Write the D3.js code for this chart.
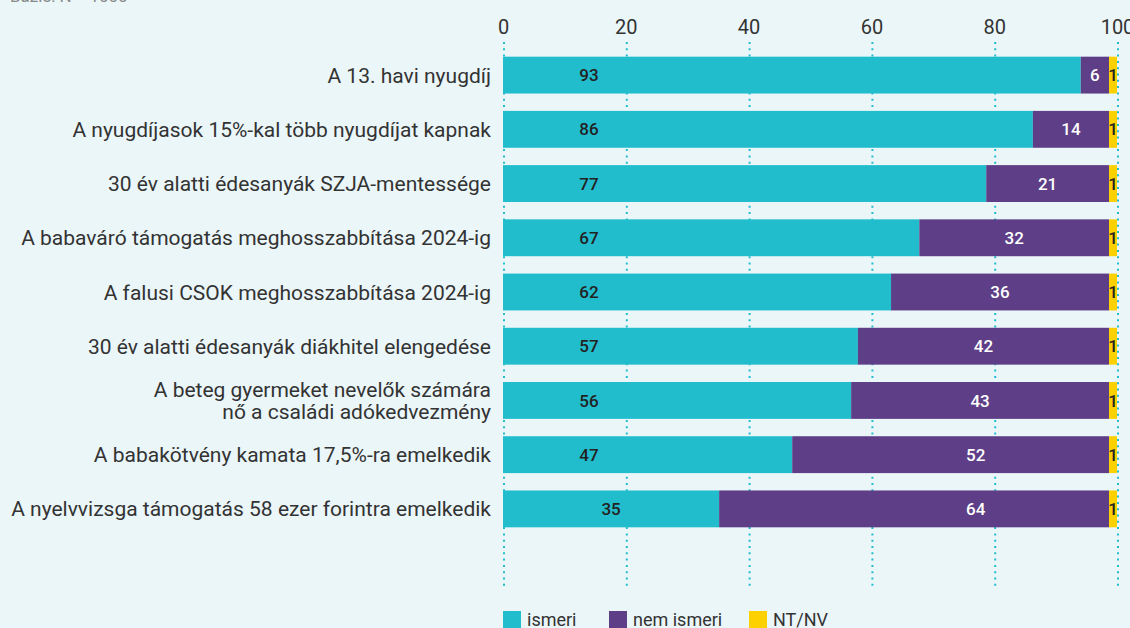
<!DOCTYPE html>
<html>
<head>
<meta charset="utf-8">
<script src="https://cdn.jsdelivr.net/npm/d3@7"></script>
<style>
  html, body { margin: 0; padding: 0; background: #ebf6f9; }
  svg { display: block; }
</style>
</head>
<body>
<div id="chart"></div>
<script>
// categories (top to bottom)
const categories = [
    ["A 13. havi nyugdíj"],
    ["A nyugdíjasok 15%-kal több nyugdíjat kapnak"],
    ["30 év alatti édesanyák SZJA-mentessége"],
    ["A babaváró támogatás meghosszabbítása 2024-ig"],
    ["A falusi CSOK meghosszabbítása 2024-ig"],
    ["30 év alatti édesanyák diákhitel elengedése"],
    ["A beteg gyermeket nevelők számára", "nő a családi adókedvezmény"],
    ["A babakötvény kamata 17,5%-ra emelkedik"],
    ["A nyelvvizsga támogatás 58 ezer forintra emelkedik"]
];

// bar lengths as drawn in the picture (%)
const ismeri    = [94.1, 86.3, 78.7, 67.8, 63.2, 57.8, 56.7, 47.1, 35.2];
const nemIsmeri = [4.6, 12.4, 20.0, 30.9, 35.5, 40.9, 42.0, 51.6, 63.5];
const ntnv      = [1.3, 1.3, 1.3, 1.3, 1.3, 1.3, 1.3, 1.3, 1.3];

// printed value labels
const ismeriLabels    = [93, 86, 77, 67, 62, 57, 56, 47, 35];
const nemIsmeriLabels = [6, 14, 21, 32, 36, 42, 43, 52, 64];
const ntnvLabels      = [1, 1, 1, 1, 1, 1, 1, 1, 1];

const xTicks = [0, 20, 40, 60, 80, 100];
const seriesNames = ["ismeri", "nem ismeri", "NT/NV"];

const colors = {
    teal: "#22bdcc",
    purple: "#5e3f87",
    yellow: "#fdd100",
    text: "#333",
    bg: "#ebf6f9"
};
const font = "Roboto, 'Noto Sans', sans-serif";

const W = 1130, H = 628;

const svg = d3.select("#chart").append("svg")
    .attr("width", W)
    .attr("height", H)
    .style("background", colors.bg);

const x = d3.scaleLinear().domain([0, 100]).range([503, 1117]);
const y = d3.scaleBand()
    .domain(d3.range(categories.length))
    .range([48, 536])
    .paddingInner(0.32)
    .paddingOuter(0.16);

// cut-off note at the very top
svg.append("text")
    .attr("x", 10)
    .attr("y", 1.5)
    .style("font-family", font)
    .style("font-size", "17px")
    .style("fill", "#888")
    .text("Bázis: N = 1000");

// dotted grid
svg.append("g")
    .selectAll("line")
    .data(xTicks)
    .join("line")
    .attr("x1", d => x(d) + 1)
    .attr("x2", d => x(d) + 1)
    .attr("y1", 42)
    .attr("y2", 586)
    .style("stroke", colors.teal)
    .style("stroke-width", 2)
    .style("stroke-dasharray", "2,4.3");

// top axis
const axis = svg.append("g")
    .attr("transform", "translate(0,34)")
    .call(d3.axisTop(x).tickValues(xTicks).tickSize(0).tickPadding(0));
axis.select(".domain").remove();
axis.selectAll("text")
    .style("font-family", font)
    .style("font-size", "20px")
    .style("fill", colors.text);

// stacked rows
const rows = categories.map((c, i) => ({
    i,
    a: ismeri[i], b: nemIsmeri[i], c: ntnv[i],
    la: ismeriLabels[i], lb: nemIsmeriLabels[i], lc: ntnvLabels[i]
}));

const row = svg.append("g")
    .selectAll("g")
    .data(rows)
    .join("g")
    .attr("transform", d => `translate(0,${y(d.i)})`);

const bh = y.bandwidth();

row.append("rect")
    .attr("x", x(0))
    .attr("width", d => x(d.a) - x(0))
    .attr("height", bh)
    .style("fill", colors.teal);

row.append("rect")
    .attr("x", d => x(d.a))
    .attr("width", d => x(d.a + d.b) - x(d.a))
    .attr("height", bh)
    .style("fill", colors.purple);

row.append("rect")
    .attr("x", d => x(d.a + d.b))
    .attr("width", d => x(d.a + d.b + d.c) - x(d.a + d.b))
    .attr("height", bh)
    .style("fill", colors.yellow);

const numStyle = sel => sel
    .attr("y", bh / 2)
    .attr("dy", "0.36em")
    .attr("text-anchor", "middle")
    .style("font-family", font)
    .style("font-size", "17px")
    .style("font-weight", 500);

row.append("text")
    .call(numStyle)
    .attr("x", d => d.a > 40 ? x(14) : x(d.a / 2))
    .style("fill", "#222")
    .text(d => d.la);

row.append("text")
    .call(numStyle)
    .attr("x", d => Math.max(x(d.a + d.b / 2), x(77)))
    .style("fill", "#fff")
    .text(d => d.lb);

row.append("text")
    .call(numStyle)
    .attr("x", d => x(d.a + d.b + d.c / 2))
    .style("fill", "#222")
    .text(d => d.lc);

// category labels
const lineH = 22;
row.append("text")
    .attr("x", 491)
    .attr("text-anchor", "end")
    .style("font-family", font)
    .style("font-size", "21px")
    .style("fill", colors.text)
    .each(function(d) {
        const lines = categories[d.i];
        const t = d3.select(this);
        lines.forEach((s, k) => {
            t.append("tspan")
                .attr("x", 491)
                .attr("y", bh / 2 + (k - (lines.length - 1) / 2) * lineH)
                .attr("dy", "0.36em")
                .text(s);
        });
    });

// legend
const legendColors = [colors.teal, colors.purple, colors.yellow];
const legendX = [503, 609, 749];
const legend = svg.append("g")
    .selectAll("g")
    .data(seriesNames)
    .join("g")
    .attr("transform", (d, i) => `translate(${legendX[i]},611)`);

legend.append("rect")
    .attr("width", 18)
    .attr("height", 18)
    .style("fill", (d, i) => legendColors[i]);

legend.append("text")
    .attr("x", 24)
    .attr("y", 9)
    .attr("dy", "0.36em")
    .style("font-family", font)
    .style("font-size", "18px")
    .style("fill", colors.text)
    .text(d => d);
</script>
</body>
</html>
